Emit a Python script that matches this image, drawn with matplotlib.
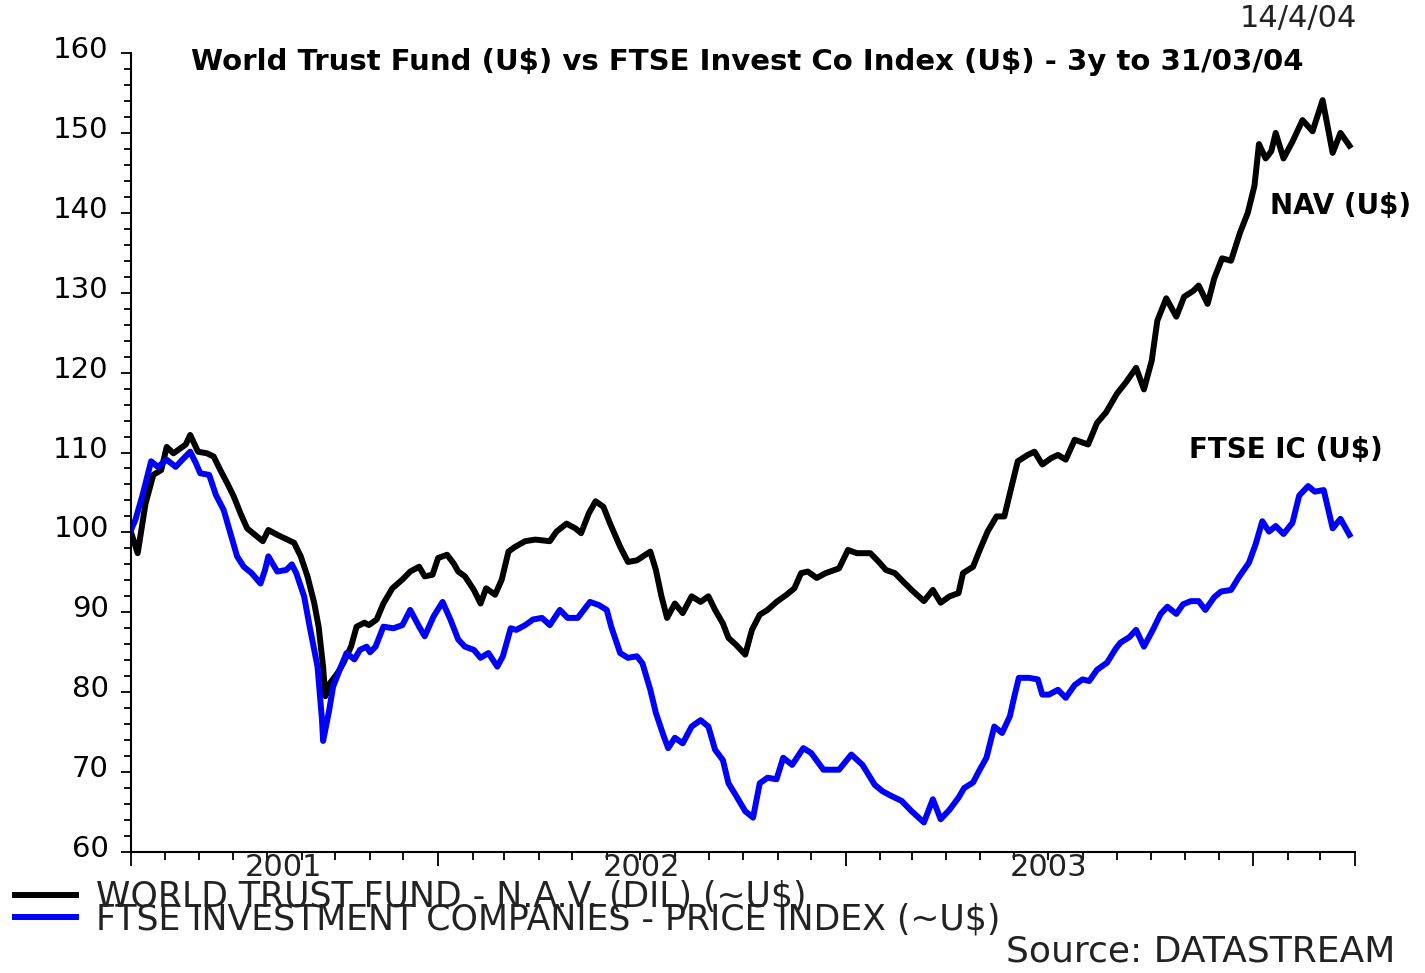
import numpy as np
import matplotlib
matplotlib.use("Agg")
import matplotlib.pyplot as plt
import matplotlib.dates as mdates
import matplotlib.transforms as mtransforms

# weekly readings, x = weeks after 1 Apr 2001
nav_weeks = [0, 0.8, 1.9, 2.9, 3.8, 4.6, 5.5, 7.0, 7.6, 8.5, 9.7, 10.6, 11.4, 12.3, 13.2,
             14.0, 14.9, 15.9, 16.8, 17.6, 18.7, 20.0, 20.8, 21.7, 22.5, 23.4, 24.0, 24.6,
             24.9, 25.5, 26.4, 27.2, 28.1, 28.9, 29.8, 30.4, 31.5, 32.3, 33.4, 34.7, 35.7,
             36.8, 37.6, 38.5, 39.3, 40.4, 41.3, 41.9, 42.7, 43.8, 44.7, 45.5, 46.6, 47.4,
             48.3, 49.1, 50.4, 51.7, 53.6, 54.4, 55.7, 56.8, 57.6, 58.5, 59.5, 60.4, 61.3,
             62.6, 63.6, 64.7, 66.4, 67.2, 67.9, 68.5, 69.6, 70.6, 71.7, 72.8, 73.8, 74.7,
             75.7, 76.4, 77.4, 78.5, 79.4, 80.4, 81.5, 82.6, 83.8, 84.9, 85.7, 86.6, 87.7,
             88.9, 90.6, 91.7, 92.8, 94.5, 95.6, 96.6, 97.7, 98.7, 99.8, 101.5, 102.6,
             103.6, 104.7, 105.8, 106.4, 107.7, 108.5, 109.6, 110.7, 111.7, 112.4, 113.4,
             114.7, 115.6, 116.6, 117.7, 118.5, 119.6, 120.7, 122.4, 123.6, 124.7, 126.2,
             127.3, 128.6, 129.6, 130.5, 131.3, 132.4, 133.7, 134.7, 135.8, 136.6, 137.7,
             138.6, 139.6, 140.7, 141.8, 142.8, 143.7, 144.3, 145.2, 145.8, 146.4, 147.5,
             148.6, 149.8, 151.1, 152.4, 153.7, 154.7, 155.8]
nav_vals = [100.0, 97.4, 103.6, 107.2, 107.8, 110.7, 109.9, 111.0, 112.2, 110.1, 109.9, 109.5,
            107.8, 106.2, 104.5, 102.4, 100.5, 99.7, 98.9, 100.3, 99.7, 99.1, 98.7, 97.0,
            94.5, 91.2, 88.2, 83.2, 79.5, 81.1, 82.4, 83.6, 85.7, 88.2, 88.7, 88.4, 89.1,
            91.1, 93.0, 94.1, 95.1, 95.7, 94.5, 94.7, 96.8, 97.2, 96.1, 95.1, 94.5, 92.8,
            91.1, 93.0, 92.2, 94.1, 97.6, 98.2, 98.9, 99.1, 98.9, 100.1, 101.1, 100.5, 99.9,
            102.4, 103.9, 103.2, 101.1, 98.2, 96.3, 96.5, 97.6, 95.3, 92.0, 89.3, 91.1, 89.9,
            92.0, 91.3, 92.0, 90.3, 88.6, 86.8, 85.9, 84.7, 87.8, 89.7, 90.3, 91.3, 92.2,
            93.0, 94.9, 95.1, 94.3, 94.9, 95.5, 97.8, 97.4, 97.4, 96.4, 95.3, 94.9, 93.9,
            92.8, 91.4, 92.8, 91.2, 92.0, 92.4, 94.9, 95.7, 97.8, 100.1, 102.0, 102.0, 104.9,
            108.9, 109.7, 110.1, 108.5, 109.3, 109.7, 109.1, 111.6, 111.0, 113.7, 115.0,
            117.4, 118.8, 120.6, 117.9, 121.5, 126.5, 129.3, 127.0, 129.5, 130.2, 130.9,
            128.6, 131.8, 134.3, 134.0, 137.5, 140.0, 143.4, 148.6, 146.8, 147.7, 150.0,
            146.8, 148.9, 151.6, 150.2, 154.1, 147.5, 150.0, 148.4]

ftse_weeks = [0, 0.6, 1.5, 2.5, 3.4, 4.6, 5.7, 6.6, 7.6, 8.3, 8.9, 10.0, 10.8, 11.9, 12.7,
              13.6, 14.4, 15.5, 16.6, 17.2, 17.6, 18.7, 19.8, 20.6, 21.2, 22.1, 22.9, 23.8,
              24.4, 24.6, 25.3, 25.9, 26.8, 27.6, 28.5, 29.3, 30.2, 30.6, 31.3, 32.3, 33.6,
              34.7, 35.7, 36.8, 37.6, 38.7, 39.8, 40.8, 41.9, 42.7, 43.8, 44.7, 45.7, 46.8,
              47.6, 48.5, 49.3, 50.4, 51.5, 52.5, 53.6, 54.9, 55.9, 57.2, 58.7, 59.8, 60.8,
              61.5, 62.6, 63.6, 64.7, 65.5, 66.4, 67.2, 68.1, 68.7, 69.6, 70.6, 71.7, 72.8,
              73.8, 74.7, 75.7, 76.4, 77.4, 78.5, 79.6, 80.4, 81.5, 82.6, 83.4, 84.5, 86.0,
              87.0, 88.5, 90.6, 92.1, 93.6, 95.1, 96.2, 97.3, 98.5, 99.8, 101.5, 102.6, 103.6,
              104.7, 105.8, 106.6, 107.7, 108.5, 109.4, 110.4, 111.5, 112.4, 113.0, 113.6,
              114.9, 116.0, 116.6, 117.5, 118.5, 119.6, 120.7, 121.7, 122.6, 123.6, 124.9,
              126.0, 126.6, 127.7, 128.6, 129.6, 130.7, 131.7, 132.6, 133.7, 134.5, 135.6,
              136.6, 137.5, 138.6, 139.4, 140.7, 141.7, 143.0, 143.9, 144.7, 145.6, 146.4,
              147.5, 148.6, 149.4, 150.5, 151.5, 152.6, 153.7, 154.7, 155.8]
ftse_vals = [100.3, 101.6, 104.5, 108.9, 108.2, 109.1, 108.2, 109.1, 110.1, 108.7, 107.4, 107.2,
             104.7, 102.8, 99.9, 97.0, 95.7, 94.9, 93.6, 95.3, 97.0, 95.1, 95.3, 96.0, 94.9,
             92.0, 88.2, 83.2, 76.6, 73.9, 77.4, 80.7, 83.2, 84.9, 84.1, 85.3, 85.7, 85.0,
             85.7, 88.2, 88.0, 88.4, 90.3, 88.2, 87.0, 89.5, 91.3, 89.1, 86.6, 85.7, 85.3,
             84.3, 84.9, 83.2, 84.5, 88.0, 87.8, 88.4, 89.1, 89.3, 88.4, 90.3, 89.3, 89.3,
             91.3, 90.9, 90.3, 88.2, 84.9, 84.3, 84.5, 83.6, 80.3, 77.4, 74.5, 73.0, 74.3,
             73.6, 75.7, 76.5, 75.7, 72.8, 71.5, 68.6, 67.0, 65.1, 64.3, 68.6, 69.3, 69.1,
             71.8, 70.9, 73.0, 72.4, 70.3, 70.3, 72.2, 70.9, 68.4, 67.6, 67.0, 66.4, 65.1,
             63.7, 66.6, 64.1, 65.3, 66.8, 68.0, 68.7, 70.3, 71.8, 75.7, 74.9, 77.0, 79.5,
             81.8, 81.8, 81.6, 79.7, 79.7, 80.3, 79.3, 80.9, 81.6, 81.4, 82.8, 83.7, 85.5,
             86.2, 86.9, 87.8, 85.7, 87.8, 89.8, 90.7, 89.8, 91.0, 91.4, 91.4, 90.3, 91.9,
             92.6, 92.8, 94.4, 96.2, 98.5, 101.4, 100.1, 100.8, 99.8, 101.2, 104.6, 105.8,
             105.1, 105.3, 100.5, 101.7, 99.7]

nav_label = "WORLD TRUST FUND - N.A.V. (DIL) (~U$)"
ftse_label = "FTSE INVESTMENT COMPANIES - PRICE INDEX (~U$)"
year_labels = ["2001", "2002", "2003"]
year_centres = ["2001-08-16", "2002-07-02", "2003-07-02"]

start = np.datetime64("2001-04-01")
to_dates = lambda w: start + np.round(np.array(w) * 7).astype("timedelta64[D]")

plt.rcParams["font.family"] = "DejaVu Sans"
plt.rcParams["text.parse_math"] = False  # keep the $ signs literal
fig = plt.figure(figsize=(14.25, 9.73), dpi=100)
ax = fig.add_axes([131/1425, 1-852/973, 1224/1425, 799/973])

l1, = ax.plot(to_dates(nav_weeks), nav_vals, color="black", lw=4.3, solid_joinstyle="round")
l2, = ax.plot(to_dates(ftse_weeks), ftse_vals, color="#0000ff", lw=4.3, solid_joinstyle="round")

ax.set_ylim(60, 160)
ax.set_xlim(np.datetime64("2001-04-01"), np.datetime64("2004-04-01"))
for s in ["top", "right"]:
    ax.spines[s].set_visible(False)
ax.spines["left"].set_linewidth(1.5)
ax.spines["bottom"].set_linewidth(1.5)

ax.set_yticks(np.arange(60, 161, 10))
ax.set_yticks(np.arange(60, 161, 2), minor=True)
ax.tick_params(axis="y", which="major", length=7, width=1.3, labelsize=21, pad=9)
ax.tick_params(axis="y", which="minor", length=5, width=1.3)
off = mtransforms.ScaledTranslation(0, 0.06, fig.dpi_scale_trans)
for lab in ax.get_yticklabels():
    lab.set_transform(lab.get_transform() + off)

major_x = [np.datetime64(d) for d in ["2001-04-01", "2002-01-01", "2003-01-01",
                                      "2004-01-01", "2004-04-01"]]
ax.set_xticks(mdates.date2num(major_x))
ax.set_xticklabels([])
ax.xaxis.set_minor_locator(mdates.MonthLocator())
ax.tick_params(axis="x", which="major", length=10, width=1.3)
ax.tick_params(axis="x", which="minor", length=6, width=1.3)
for lab, c in zip(year_labels, year_centres):
    ax.text(np.datetime64(c), -0.019, lab, transform=ax.get_xaxis_transform(),
            ha="center", va="center", fontsize=22, color="#222222")

fig.text(0.5246, 0.936, "World Trust Fund (U$) vs FTSE Invest Co Index (U$) - 3y to 31/03/04",
         ha="center", va="center", fontsize=21, fontweight="bold")
fig.text(0.9109, 0.9815, "14/4/04", ha="center", va="center", fontsize=22, color="#222222")
fig.text(0.941, 0.788, "NAV (U$)", ha="center", va="center", fontsize=20, fontweight="bold")
fig.text(0.9025, 0.5375, "FTSE IC (U$)", ha="center", va="center", fontsize=20,
         fontweight="bold")

fig.legend([l1, l2], [nav_label, ftse_label], loc="upper left",
           bbox_to_anchor=(15/1425, 1-880/973), frameon=False, fontsize=25,
           handlelength=1.75, handletextpad=0.58, borderpad=0, borderaxespad=0,
           labelspacing=-0.33, labelcolor="#222222")
fig.text(0.979, 1-951/973, "Source: DATASTREAM", ha="right", va="center", fontsize=26,
         color="#222222")

fig.savefig("out.png", dpi=100)
